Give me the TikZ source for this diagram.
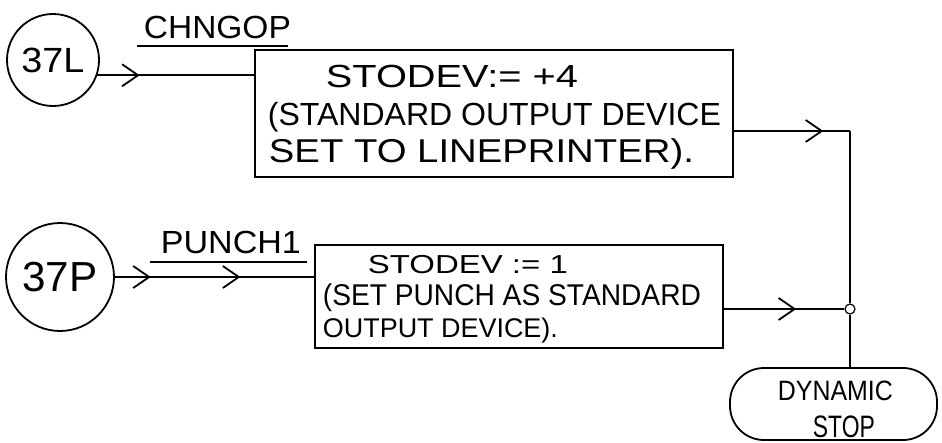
\documentclass[tikz,border=0pt]{standalone}
\usepackage{fontspec}
\setmainfont{Liberation Sans}
\usetikzlibrary{arrows.meta,decorations.markings}
\newcommand{\fitw}[2]{\resizebox{#1}{\height}{#2}}
\begin{document}
\begin{tikzpicture}[x=1pt,y=-1pt,line width=1.8pt,
  box/.style={draw,rectangle,inner sep=0pt},
  entry/.style={draw,circle,inner sep=0pt},
  txt/.style={anchor=base west,inner sep=0pt},
  barb/.tip={Straight Barb[length=16pt,width=22pt]},
  midarrow/.style={postaction={decorate},decoration={markings,
    mark=at position #1 with {\arrow{barb}}}},
  twoarrows/.style 2 args={postaction={decorate},decoration={markings,
    mark=at position #1 with {\arrow{barb}},
    mark=at position #2 with {\arrow{barb}}}},
  junct/.style={draw,circle,fill=white,minimum size=10pt,inner sep=0pt,line width=1.2pt},
  term/.style={draw,rectangle,rounded corners=34pt,inner sep=0pt}]
\useasboundingbox (0,0) rectangle (942,442);

% entry circles
\node[entry,minimum size=92pt,font=\fontsize{35}{35}\selectfont] (c37L) at (53,60) {\fitw{63pt}{37L}};
\node[entry,minimum size=108pt,font=\fontsize{42}{42}\selectfont] (c37P) at (60,277) {\fitw{75pt}{37P}};

% labels
\node[txt,font=\fontsize{32}{32}\selectfont] (lchng) at (143,38) {\fitw{147pt}{CHNGOP}};
\draw (137,46) -- (288,46);
\node[txt,font=\fontsize{32}{32}\selectfont] (lpunch) at (160,253) {\fitw{140pt}{PUNCH1}};
\draw (150,262) -- (307,262);

% box 1
\node[box,minimum width=478pt,minimum height=127pt] (b1) at (494,113.5) {};
\node[txt,font=\fontsize{32}{32}\selectfont] (b1a) at (325,87) {\fitw{252pt}{STODEV:= +4}};
\node[txt,font=\fontsize{32}{32}\selectfont] (b1b) at (267,125) {\fitw{453pt}{(STANDARD OUTPUT DEVICE}};
\node[txt,font=\fontsize{33}{33}\selectfont] (b1c) at (268,162) {\fitw{425pt}{SET TO LINEPRINTER).}};

% box 2
\node[box,minimum width=408pt,minimum height=103pt] (b2) at (519,296.5) {};
\node[txt,font=\fontsize{26}{26}\selectfont] (b2a) at (367,273) {\fitw{200pt}{STODEV := 1}};
\node[txt,font=\fontsize{30}{30}\selectfont] (b2b) at (322,305) {\fitw{378pt}{(SET PUNCH AS STANDARD}};
\node[txt,font=\fontsize{27}{27}\selectfont] (b2c) at (322,337) {\fitw{235pt}{OUTPUT DEVICE).}};

% terminal
\node[term,minimum width=207pt,minimum height=72pt] (dyn) at (833.5,404) {};
\node[txt,font=\fontsize{28}{28}\selectfont] (dyna) at (777,400) {\fitw{115pt}{DYNAMIC}};
\node[txt,font=\fontsize{31}{31}\selectfont] (dynb) at (812,437) {\fitw{62pt}{STOP}};

% junction
\coordinate (j1) at (850,131);
\node[junct] (jn) at (850,309) {};

% connectors
\draw[midarrow=0.27] (c37L.-19) -- (c37L.-19 -| b1.west);
\draw[twoarrows={0.18}{0.63}] (c37P.east) -- (c37P.east -| b2.west);
\draw[midarrow=0.77] ([yshift=-17.5pt]b1.east) -- (j1);
\draw (j1) -- (jn.north);
\draw[midarrow=0.6] (jn.west -| b2.east) -- (jn.west);
\draw (jn.south) -- (jn.south |- dyn.north);
\end{tikzpicture}
\end{document}
